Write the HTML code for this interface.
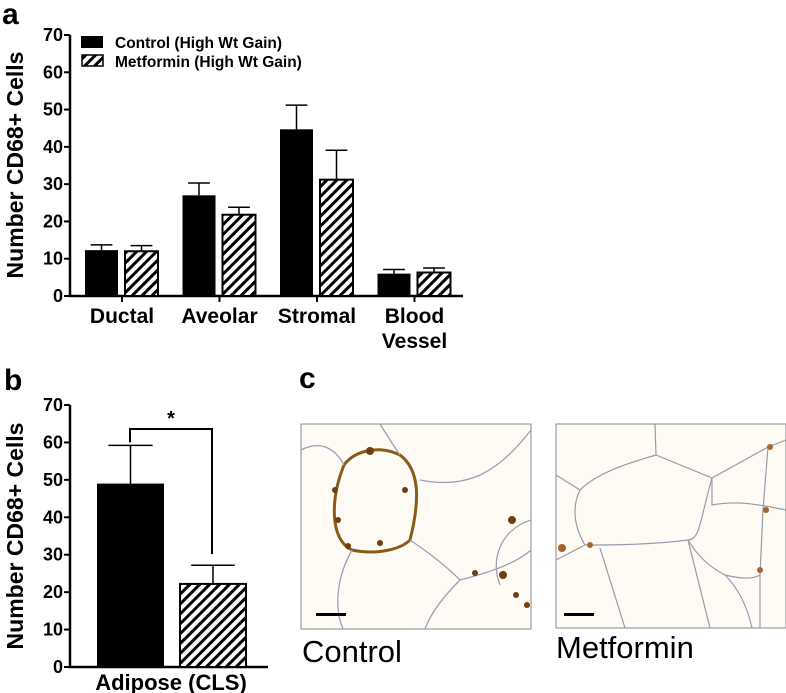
<!DOCTYPE html>
<html><head><meta charset="utf-8"><style>
body{margin:0;background:#fff;}
svg{display:block;font-family:"Liberation Sans",Arial,sans-serif;}
</style></head><body>
<svg id="fig" width="786" height="693" viewBox="0 0 786 693">
<defs>
<pattern id="hatch" patternUnits="userSpaceOnUse" width="7" height="7" patternTransform="rotate(45)">
<rect width="7" height="7" fill="#fff"/><rect x="0" y="0" width="3" height="7" fill="#000"/>
</pattern>
</defs>
<text x="2" y="24" font-size="30" font-weight="bold">a</text>
<text x="4" y="390" font-size="30" font-weight="bold">b</text>
<text x="299" y="388" font-size="30" font-weight="bold">c</text>
<g id="chartA"></g>
<g id="chartB"></g>
<g>
<rect x="301" y="424" width="230" height="205" fill="#fdfbf4" stroke="#888" stroke-width="1"/>
<g fill="none" stroke="#9aa0bb" stroke-width="1.3">
<path d="M344 465 C330 500 330 540 352 550 C375 555 400 550 410 540 C420 500 420 470 400 455 C380 445 355 450 344 465Z" stroke="#8a5a1a" stroke-width="3"/>
<path d="M301 450 C320 440 335 448 344 465"/>
<path d="M410 540 C440 560 455 575 460 580 C500 570 520 560 531 550"/>
<path d="M352 550 C335 580 335 610 343 629"/>
<path d="M460 580 C440 600 430 615 425 629"/>
<path d="M420 480 C470 490 500 470 531 430"/>
<path d="M500 585 C490 560 500 530 531 520"/>
<path d="M380 424 C390 440 395 448 400 455"/>
</g>
<g fill="#6b3f10">
<circle cx="370" cy="451" r="4"/><circle cx="335" cy="490" r="3"/><circle cx="338" cy="520" r="3"/><circle cx="348" cy="546" r="3"/><circle cx="380" cy="543" r="3"/><circle cx="405" cy="490" r="3"/><circle cx="512" cy="520" r="4"/><circle cx="503" cy="575" r="4"/><circle cx="516" cy="595" r="3"/><circle cx="527" cy="605" r="3"/><circle cx="475" cy="573" r="3"/>
</g>
<rect x="316" y="613" width="30" height="3" fill="#000"/>
</g>
<g>
<rect x="556" y="424" width="230" height="204" fill="#fdfbf4" stroke="#888" stroke-width="1"/>
<g fill="none" stroke="#9a9aaa" stroke-width="1.2">
<path d="M580 490 C600 470 640 460 656 455 L712 478 C700 520 700 540 688 540 C650 545 610 545 585 545 C570 520 575 500 580 490Z"/>
<path d="M655 424 L656 455"/><path d="M556 475 L580 490"/><path d="M712 478 L768 447 L786 440"/>
<path d="M712 478 L712 505 C740 500 760 505 786 510"/><path d="M768 447 L763 510 L760 575 L760 628"/>
<path d="M688 540 C700 560 715 570 725 575 C740 590 748 610 752 628"/>
<path d="M585 545 L556 560"/><path d="M600 548 L625 628"/><path d="M688 540 L710 628"/>
<path d="M725 575 C745 580 755 578 760 575"/>
</g>
<g fill="#a8642a"><circle cx="770" cy="447" r="3"/><circle cx="766" cy="510" r="3"/><circle cx="760" cy="570" r="3"/><circle cx="562" cy="548" r="4"/><circle cx="590" cy="545" r="3"/></g>
<rect x="564" y="613" width="30" height="3" fill="#000"/>
</g>
<text x="302" y="662" font-size="31">Control</text>
<text x="556" y="658" font-size="31">Metformin</text>
</svg>
<script>
const NS='http://www.w3.org/2000/svg';
const catsA=['Ductal','Aveolar','Stromal','Blood|Vessel'];
const controlA=[12.3,27.0,44.7,6.0];
const controlErrA=[1.4,3.3,6.5,1.1];
const metforminA=[12.0,21.8,31.2,6.3];
const metforminErrA=[1.5,2.0,7.9,1.2];
const ticksY=[0,10,20,30,40,50,60,70];
const catsB=['Adipose (CLS)'];
const controlB=[49.0];
const controlErrB=[10.2];
const metforminB=[22.2];
const metforminErrB=[5.0];
function mk(p,t,a){const e=document.createElementNS(NS,t);for(const k in a)e.setAttribute(k,a[k]);p.appendChild(e);return e;}
function axis(g,x0,y0,y70,xEnd,title,titleY){
  const ys=v=>y0-(y0-y70)*v/70;
  const ax=mk(g,'path',{d:`M${x0} ${y70}V${y0}H${xEnd}`,stroke:'#000','stroke-width':2.5,fill:'none'});
  
  ticksY.forEach(t=>{mk(g,'line',{x1:x0-6,x2:x0,y1:ys(t),y2:ys(t),stroke:'#000','stroke-width':2});
    const tx=mk(g,'text',{x:x0-7,y:ys(t)+6,'font-size':18,'font-weight':'bold','text-anchor':'end'});tx.textContent=t;
    });
  const tt=mk(g,'text',{x:0,y:0,'font-size':23,'font-weight':'bold','text-anchor':'middle',transform:`translate(23 ${titleY}) rotate(-90)`});
  tt.textContent=title;
  return ys;
}
function bar(g,x,w,v,err,ys,hatch,name){
  const y0=ys(0), c=x+w/2, cw=w*0.33;
  mk(g,'line',{x1:c,x2:c,y1:ys(v),y2:ys(v+err),stroke:'#000','stroke-width':1.5});
  mk(g,'line',{x1:c-cw,x2:c+cw,y1:ys(v+err),y2:ys(v+err),stroke:'#000','stroke-width':1.5});
  const r=mk(g,'rect',{x:x,y:ys(v),width:w,height:y0-ys(v),fill:hatch?'url(#hatch)':'#000',stroke:'#000','stroke-width':hatch?2:0});
  
}
// chart A
(function(){
  const g=document.getElementById('chartA');
  const ys=axis(g,70,296,35,463,'Number CD68+ Cells',165);
  const step=97.5, start=122, bw=33;
  catsA.forEach((c,i)=>{
    const cx=start+i*step;
    mk(g,'line',{x1:cx,x2:cx,y1:296,y2:302,stroke:'#000','stroke-width':2});
    bar(g,cx-37,bw,controlA[i],controlErrA[i],ys,false,'bar-control-'+i);
    bar(g,cx+3,bw,metforminA[i],metforminErrA[i],ys,true,'bar-metformin-'+i);
    c.split('|').forEach((l,j)=>{const t=mk(g,'text',{x:cx,y:323+j*25,'font-size':21,'font-weight':'bold','text-anchor':'middle'});t.textContent=l;
      });
  });
  const l1=mk(g,'rect',{x:81,y:36,width:22,height:12,fill:'#000'});
  
  const l2=mk(g,'rect',{x:82,y:55,width:21,height:11,fill:'url(#hatch)',stroke:'#000','stroke-width':1.5});
  
  const t1=mk(g,'text',{x:115,y:48,'font-size':15.5,'font-weight':'bold'});t1.textContent='Control (High Wt Gain)';
  
  const t2=mk(g,'text',{x:115,y:67,'font-size':15.5,'font-weight':'bold'});t2.textContent='Metformin (High Wt Gain)';
  
})();
// chart B
(function(){
  const g=document.getElementById('chartB');
  const ys=axis(g,70,667,405,268,'Number CD68+ Cells',536);
  bar(g,97,67,controlB[0],controlErrB[0],ys,false,'bar-control-adipose');
  bar(g,180,66,metforminB[0],metforminErrB[0],ys,true,'bar-metformin-adipose');
  const br=mk(g,'path',{d:`M130 ${ys(controlB[0]+controlErrB[0])-3}V429H212V${ys(metforminB[0]+metforminErrB[0]+3)}`,stroke:'#000','stroke-width':2,fill:'none'});
  
  const st=mk(g,'text',{x:171,y:425,'font-size':20,'font-weight':'bold','text-anchor':'middle'});st.textContent='*';
  
  const xl=mk(g,'text',{x:171,y:690,'font-size':22,'font-weight':'bold','text-anchor':'middle'});xl.textContent=catsB[0];
  
})();
</script>
</body></html>
